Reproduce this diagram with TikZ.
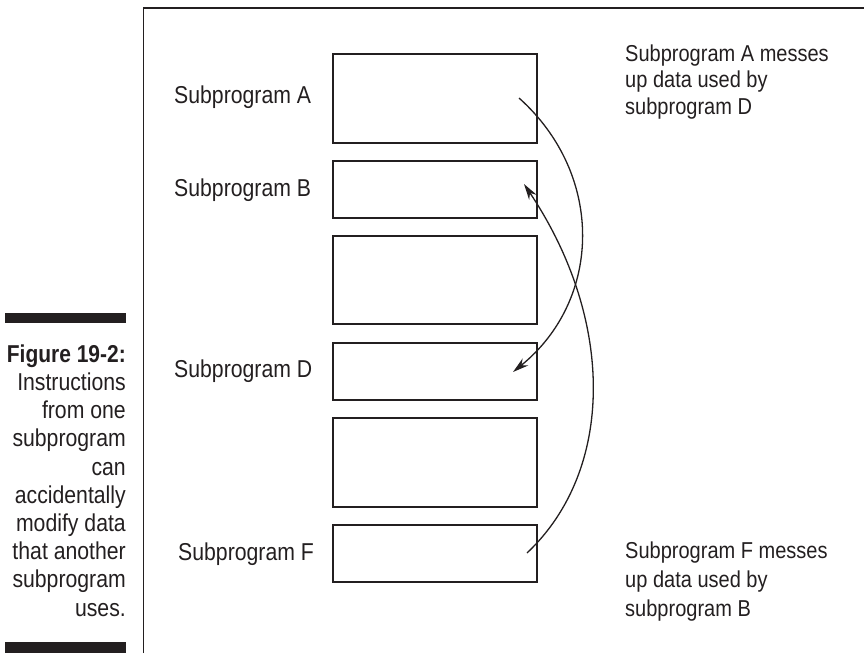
\documentclass[tikz,border=0pt]{standalone}
\usepackage{fontspec}
\setmainfont{Liberation Sans}[FakeStretch=0.87]
\newfontfamily\capbold{Liberation Sans Bold}[FakeStretch=0.86]
\usetikzlibrary{arrows.meta}
\definecolor{ink}{HTML}{231F20}
\tikzset{
  x=1pt,y=-1pt,
  sbox/.style={draw=ink,line width=2pt,minimum width=204pt,inner sep=0pt,anchor=north west},
  lbl/.style={text=ink,font=\fontsize{24.4}{28}\selectfont,inner sep=0pt,anchor=base west},
  note/.style={text=ink,inner sep=0pt,anchor=north west,align=left},
  captext/.style={text=ink,font=\fontsize{24.4}{28.2}\selectfont,inner sep=0pt,anchor=north east,align=right},
  bar/.style={fill=ink,draw=none},
  link/.style={draw=ink,line width=1.3pt,-{Stealth[length=16pt,width=9pt]}},
  frame/.style={draw=ink,line width=1.5pt}
}
\begin{document}
\begin{tikzpicture}
\useasboundingbox (0,0) rectangle (864,653);
% frame
\draw[frame] (143.5,653) -- (143.5,8) -- (864,8);
% caption bars
\fill[bar] (5,313) rectangle (126,323);
\fill[bar] (5,642) rectangle (126,653);
\node[captext] (caption) at (126,344.5) {{\capbold Figure 19-2:}\\Instructions\\from one\\subprogram\\can\\accidentally\\modify data\\that another\\subprogram\\uses.};
% boxes
\node[sbox,minimum height=89pt] (A) at (332,53) {};
\node[sbox,minimum height=57pt] (B) at (332,160) {};
\node[sbox,minimum height=88pt] (C) at (332,235) {};
\node[sbox,minimum height=57pt] (D) at (332,342) {};
\node[sbox,minimum height=89pt] (E) at (332,417) {};
\node[sbox,minimum height=57pt] (F) at (332,524) {};
% labels
\node[lbl] (la) at (174,103) {Subprogram A};
\node[lbl] (lb) at (174,196) {Subprogram B};
\node[lbl] (ld) at (174,377) {Subprogram D};
\node[lbl] (lf) at (178,560) {Subprogram F};
% notes
\node[note,font=\fontsize{23}{26.5}\selectfont] (na) at (625,44.2) {Subprogram A messes\\up data used by\\subprogram D};
\node[note,font=\fontsize{23}{29}\selectfont] (nf) at (625,541.2) {Subprogram F messes\\up data used by\\subprogram B};
% arrow end points
\coordinate (a0) at (519,98);
\coordinate (d0) at (513,372);
\coordinate (f0) at (527,553);
\coordinate (b0) at (524,184);
\draw[link] (a0) .. controls (605,175) and (602,300) .. (d0);
\draw[link] (f0) .. controls (615,470) and (615,320) .. (b0);
\end{tikzpicture}
\end{document}
